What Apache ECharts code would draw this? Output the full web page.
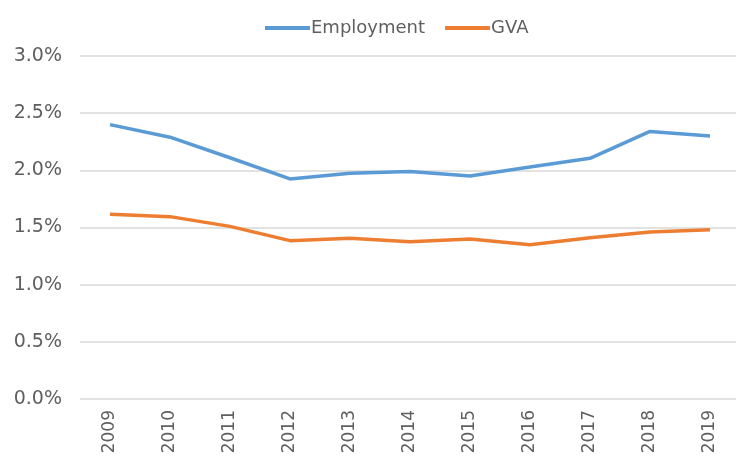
<!DOCTYPE html>
<html>
<head>
<meta charset="utf-8">
<script src="https://cdn.jsdelivr.net/npm/echarts@6/dist/echarts.min.js"></script>
<style>
html,body{margin:0;padding:0;background:#fff;}
#chart{width:736px;height:463px;}
</style>
</head>
<body>
<div id="chart"></div>
<script>
const years = ['2009','2010','2011','2012','2013','2014','2015','2016','2017','2018','2019'];
const employment = [2.40, 2.29, 2.11, 1.925, 1.975, 1.99, 1.95, 2.03, 2.105, 2.34, 2.30];
const gva = [1.615, 1.595, 1.51, 1.385, 1.405, 1.375, 1.40, 1.35, 1.41, 1.46, 1.48];
const yTicks = [0, 0.5, 1.0, 1.5, 2.0, 2.5, 3.0];

const chart = echarts.init(document.getElementById('chart'));
const font = 'DejaVu Sans';
chart.setOption({
  animation: false,
  backgroundColor: '#ffffff',
  legend: {
    top: 14,
    left: 260,
    itemWidth: 45,
    itemHeight: 4,
    itemGap: 20,
    icon: 'rect',
    textStyle: {color: '#5f5f5f', fontSize: 18, fontFamily: font, padding: [0,0,0,-4]},
    data: ['Employment', 'GVA']
  },
  grid: {left: 80, width: 660, top: 56, bottom: 64, outerBoundsMode: 'none', containLabel: false},
  xAxis: {
    type: 'category',
    data: years,
    boundaryGap: true,
    axisLine: {show: false},
    axisTick: {show: false},
    axisLabel: {rotate: 90, margin: 11, color: '#5f5f5f', fontSize: 17, fontFamily: font}
  },
  yAxis: {
    type: 'value',
    min: yTicks[0],
    max: yTicks[yTicks.length - 1],
    interval: 0.5,
    axisLine: {show: false},
    axisTick: {show: false},
    splitLine: {lineStyle: {color: '#d9d9d9', width: 1.5}},
    axisLabel: {margin: 18, color: '#5f5f5f', fontSize: 19, fontFamily: font,
      formatter: v => v.toFixed(1) + '%'}
  },
  series: [
    {name: 'Employment', type: 'line', data: employment, symbol: 'none',
      lineStyle: {color: '#5B9BD5', width: 3.5}, itemStyle: {color: '#5B9BD5'}},
    {name: 'GVA', type: 'line', data: gva, symbol: 'none',
      lineStyle: {color: '#ED7D31', width: 3.5}, itemStyle: {color: '#ED7D31'}}
  ]
});
</script>
</body>
</html>
